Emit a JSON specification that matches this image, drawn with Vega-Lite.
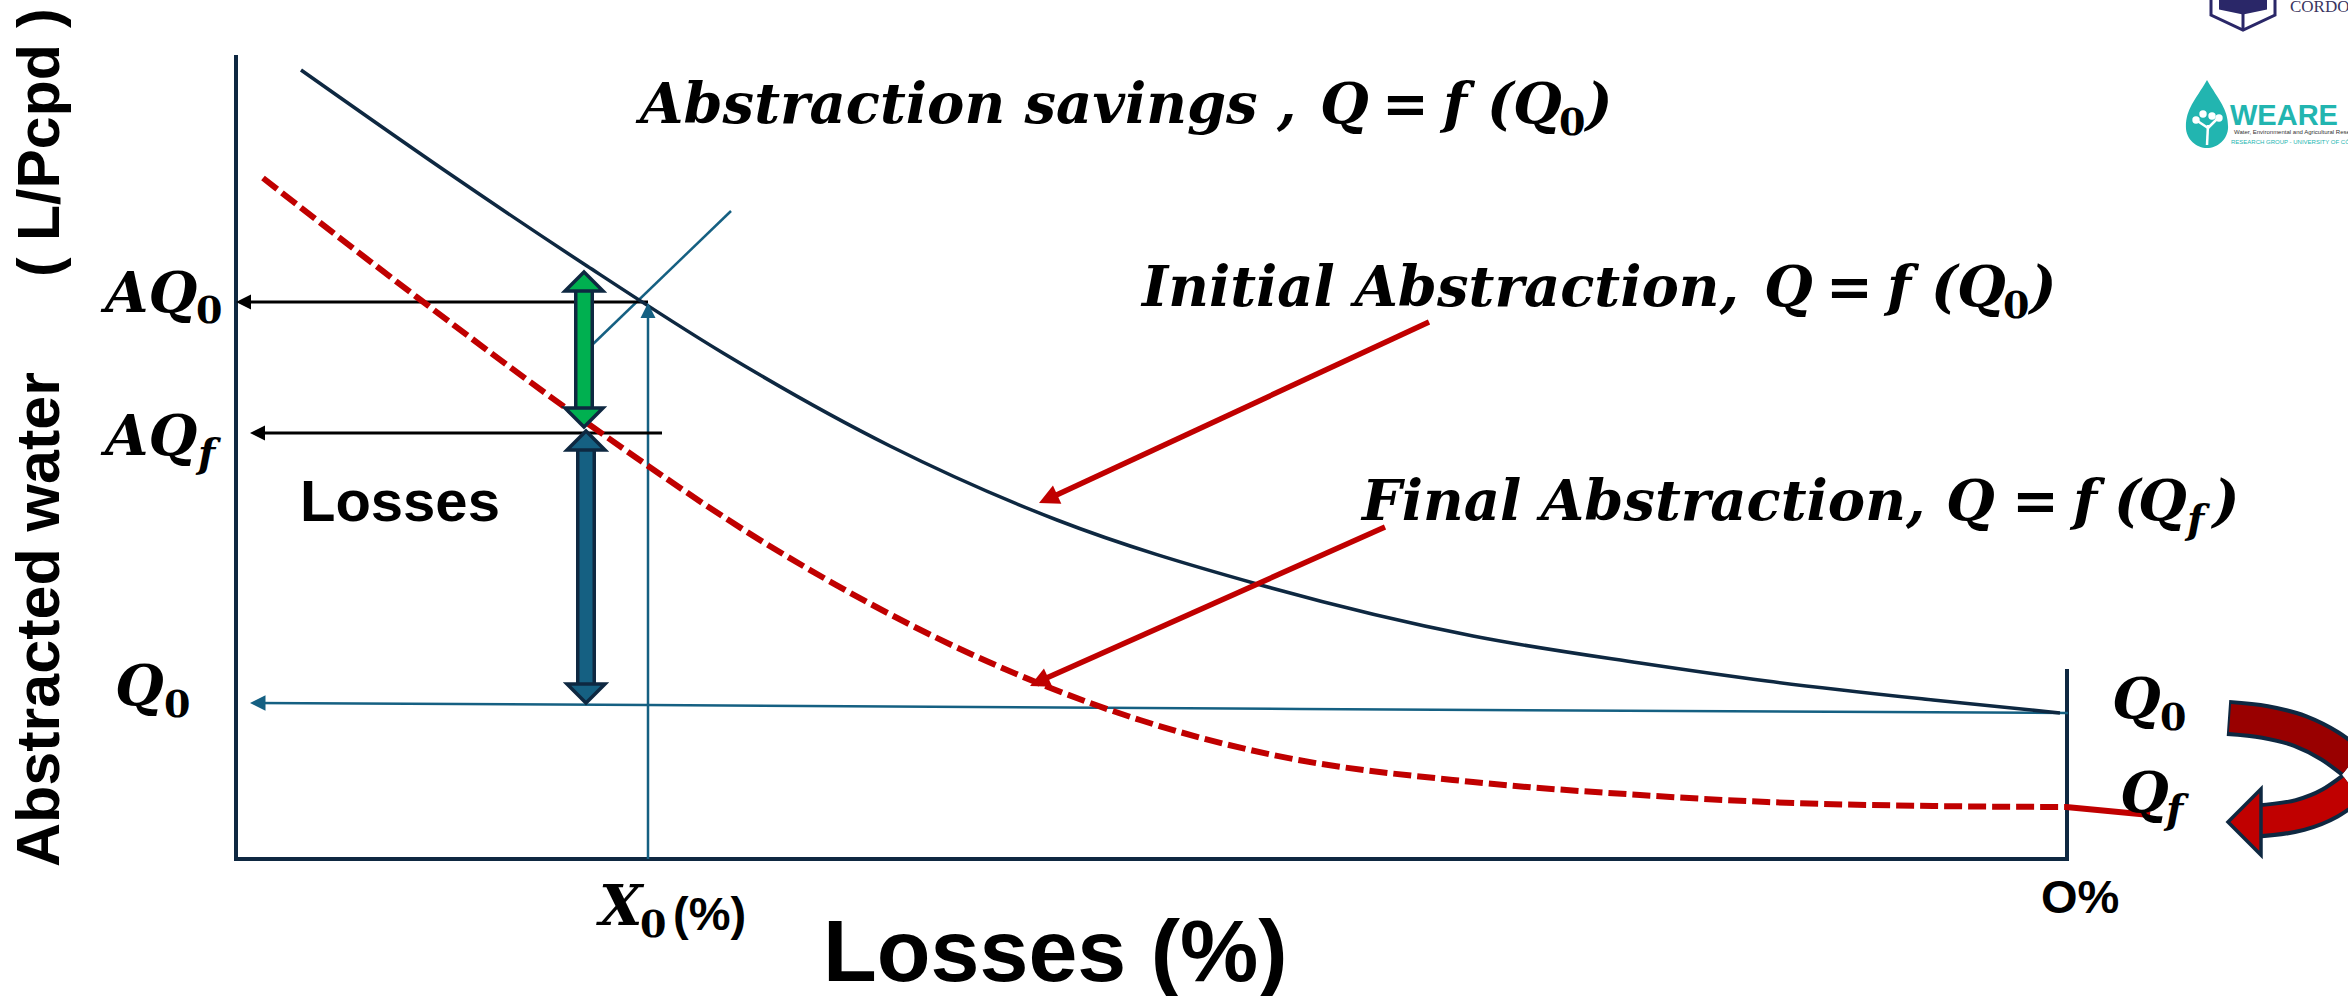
{
"$schema":"https://vega.github.io/schema/vega-lite/v6.json",
"width":2348,"height":996,"autosize":"none","padding":0,"background":"white",
"config":{"view":{"stroke":null}},
"encoding":{
 "x":{"field":"x","type":"quantitative","scale":{"domain":[0,2348],"nice":false,"zero":false},"axis":null},
 "y":{"field":"y","type":"quantitative","scale":{"domain":[996,0],"nice":false,"zero":false},"axis":null}
},
"layer":[
{"data":{"values":[{"s":"axis","x":236,"y":55},{"s":"axis","x":236,"y":859},{"s":"axis","x":2067,"y":859},{"s":"axis","x":2067,"y":669}]},
 "mark":{"type":"line","stroke":"#0E2841","strokeWidth":4,"order":false}},
{"data":{"values":[{"s":"x0","x":648,"y":859},{"s":"x0","x":648,"y":315},{"s":"q0","x":255,"y":703},{"s":"q0","x":648,"y":705},{"s":"q0","x":1300,"y":709},{"s":"q0","x":2068,"y":713},{"s":"d","x":592,"y":345},{"s":"d","x":731,"y":211}]},
 "mark":{"type":"line","stroke":"#156082","strokeWidth":2.5},"encoding":{"detail":{"field":"s"}}},
{"data":{"values":[{"s":"a","x":250,"y":302},{"s":"a","x":648,"y":302},{"s":"b","x":262,"y":433},{"s":"b","x":662,"y":433}]},
 "mark":{"type":"line","stroke":"#000000","strokeWidth":3},"encoding":{"detail":{"field":"s"}}},
{"data":{"values":[{"x":301,"y":70},{"x":444,"y":170},{"x":587,"y":266},{"x":723,"y":353},{"x":890,"y":446},{"x":1057,"y":520},{"x":1257,"y":584},{"x":1473,"y":636},{"x":1640,"y":663},{"x":1767,"y":681},{"x":1933,"y":700},{"x":2060,"y":713}]},
 "mark":{"type":"line","stroke":"#0E2841","strokeWidth":3.5,"interpolate":"monotone"}},
{"data":{"values":[{"x":263,"y":178},{"x":418,"y":298},{"x":587,"y":423},{"x":773,"y":548},{"x":973,"y":655},{"x":1140,"y":720},{"x":1273,"y":755},{"x":1473,"y":782},{"x":1640,"y":795},{"x":1767,"y":802},{"x":1933,"y":806},{"x":2067,"y":807}]},
 "mark":{"type":"line","stroke":"#C00000","strokeWidth":6,"strokeDash":[18,6],"interpolate":"monotone"}},
{"data":{"values":[{"x":2066,"y":807},{"x":2150,"y":815}]},"mark":{"type":"line","stroke":"#C00000","strokeWidth":6}},
{"data":{"values":[{"s":"i","x":1429,"y":322},{"s":"i","x":1050,"y":498},{"s":"f","x":1385,"y":527},{"s":"f","x":1042,"y":680}]},
 "mark":{"type":"line","stroke":"#C00000","strokeWidth":5.5},"encoding":{"detail":{"field":"s"}}},
{"data":{"values":[{"x":1039,"y":503},{"x":1030,"y":686}]},
 "mark":{"type":"point","shape":"M0,0 L2.235,0.065 L1.393,-1.749 Z","size":400,"filled":true,"fill":"#C00000","opacity":1,"strokeWidth":0}},
{"data":{"values":[{"x":236,"y":302},{"x":250,"y":433}]},
 "mark":{"type":"point","shape":"M0,0 L2,-1 L2,1 Z","size":225,"filled":true,"fill":"#000000","opacity":1,"strokeWidth":0}},
{"data":{"values":[{"x":250,"y":703}]},
 "mark":{"type":"point","shape":"M0,0 L2,-1 L2,1 Z","size":240,"filled":true,"fill":"#156082","opacity":1,"strokeWidth":0}},
{"data":{"values":[{"x":648,"y":303}]},
 "mark":{"type":"point","shape":"M0,0 L1,2 L-1,2 Z","size":225,"filled":true,"fill":"#156082","opacity":1,"strokeWidth":0}},
{"data":{"values":[{"s":"g","x":584,"y":288},{"s":"g","x":584,"y":412}]},"mark":{"type":"line","stroke":"#0E2841","strokeWidth":20},"encoding":{"detail":{"field":"s"}}},
{"data":{"values":[{"s":"g","x":584,"y":288},{"s":"g","x":584,"y":412}]},"mark":{"type":"line","stroke":"#00B050","strokeWidth":13},"encoding":{"detail":{"field":"s"}}},
{"data":{"values":[{"s":"b","x":586,"y":445},{"s":"b","x":586,"y":688}]},"mark":{"type":"line","stroke":"#0E2841","strokeWidth":20},"encoding":{"detail":{"field":"s"}}},
{"data":{"values":[{"s":"b","x":586,"y":445},{"s":"b","x":586,"y":688}]},"mark":{"type":"line","stroke":"#156082","strokeWidth":13},"encoding":{"detail":{"field":"s"}}},
{"data":{"values":[{"x":584,"y":272}]},"mark":{"type":"point","shape":"M0,0 L1,1 L-1,1 Z","size":1444,"filled":true,"fill":"#00B050","stroke":"#0E2841","strokeWidth":3.5,"opacity":1}},
{"data":{"values":[{"x":584,"y":427}]},"mark":{"type":"point","shape":"M0,0 L1,-1 L-1,-1 Z","size":1444,"filled":true,"fill":"#00B050","stroke":"#0E2841","strokeWidth":3.5,"opacity":1}},
{"data":{"values":[{"x":586,"y":431}]},"mark":{"type":"point","shape":"M0,0 L1,1 L-1,1 Z","size":1444,"filled":true,"fill":"#156082","stroke":"#0E2841","strokeWidth":3.5,"opacity":1}},
{"data":{"values":[{"x":586,"y":703}]},"mark":{"type":"point","shape":"M0,0 L1,-1 L-1,-1 Z","size":1444,"filled":true,"fill":"#156082","stroke":"#0E2841","strokeWidth":3.5,"opacity":1}},
{"data":{"values":[{"x":2258,"y":821},{"x":2300,"y":815},{"x":2330,"y":803},{"x":2352,"y":788}]},"mark":{"type":"line","stroke":"#0E2841","strokeWidth":35,"interpolate":"monotone"}},
{"data":{"values":[{"x":2254,"y":821},{"x":2300,"y":815},{"x":2330,"y":803},{"x":2352,"y":788}]},"mark":{"type":"line","stroke":"#C00000","strokeWidth":27,"interpolate":"monotone"}},
{"data":{"values":[{"x":2228,"y":822}]},"mark":{"type":"point","shape":"M0,0 L1,-1 L1,1 Z","size":4356,"filled":true,"fill":"#C00000","stroke":"#0E2841","strokeWidth":3.5,"opacity":1}},
{"data":{"values":[{"x":2228,"y":718},{"x":2265,"y":722},{"x":2300,"y":731},{"x":2330,"y":746},{"x":2352,"y":762}]},"mark":{"type":"line","stroke":"#0E2841","strokeWidth":36,"interpolate":"monotone"}},
{"data":{"values":[{"x":2230,"y":718},{"x":2265,"y":722},{"x":2300,"y":731},{"x":2330,"y":746},{"x":2352,"y":762}]},"mark":{"type":"line","stroke":"#990000","strokeWidth":28,"interpolate":"monotone"}},
{"data":{"values":[{"t":"Abstracted water","x":59,"y":867}]},"mark":{"type":"text","angle":270,"align":"left","baseline":"alphabetic","font":"Liberation Sans","fontWeight":"bold","fontSize":61,"fill":"#000000"},"encoding":{"text":{"field":"t"}}},
{"data":{"values":[{"t":"( L/Pcpd )","x":59,"y":277}]},"mark":{"type":"text","angle":270,"align":"left","baseline":"alphabetic","font":"Liberation Sans","fontWeight":"bold","fontSize":59,"fill":"#000000"},"encoding":{"text":{"field":"t"}}},
{"data":{"values":[{"t":"Losses","x":300,"y":521}]},"mark":{"type":"text","align":"left","baseline":"alphabetic","font":"Liberation Sans","fontWeight":"bold","fontSize":58,"fill":"#000000"},"encoding":{"text":{"field":"t"}}},
{"data":{"values":[{"t":"Losses (%)","x":823,"y":981}]},"mark":{"type":"text","align":"left","baseline":"alphabetic","font":"Liberation Sans","fontWeight":"bold","fontSize":88,"fill":"#000000"},"encoding":{"text":{"field":"t"}}},
{"data":{"values":[{"t":"O%","x":2041,"y":913},{"t":"(%)","x":673,"y":930}]},"mark":{"type":"text","align":"left","baseline":"alphabetic","font":"Liberation Sans","fontWeight":"bold","fontSize":47,"fill":"#000000"},"encoding":{"text":{"field":"t"}}},
{"data":{"values":[
 {"t":"Abstraction savings ,","x":640,"y":123},{"t":"Q","x":1320,"y":123},{"t":"=","x":1382,"y":123},{"t":"f","x":1443,"y":123},{"t":"(","x":1487,"y":123},{"t":"Q","x":1513,"y":123},{"t":")","x":1586,"y":123},
 {"t":"Initial Abstraction,","x":1142,"y":306},{"t":"Q","x":1764,"y":306},{"t":"=","x":1826,"y":306},{"t":"f","x":1887,"y":306},{"t":"(","x":1931,"y":306},{"t":"Q","x":1957,"y":306},{"t":")","x":2030,"y":306},
 {"t":"Final Abstraction,","x":1362,"y":520},{"t":"Q","x":1946,"y":520},{"t":"=","x":2012,"y":520},{"t":"f","x":2073,"y":520},{"t":"(","x":2114,"y":520},{"t":"Q","x":2138,"y":520},{"t":")","x":2213,"y":520},
 {"t":"AQ","x":105,"y":312},{"t":"AQ","x":105,"y":455},{"t":"Q","x":115,"y":705},{"t":"Q","x":2112,"y":718},{"t":"Q","x":2120,"y":812},{"t":"X","x":599,"y":925}
]},"mark":{"type":"text","align":"left","baseline":"alphabetic","font":"DejaVu Serif","fontWeight":"bold","fontStyle":"italic","fontSize":56,"fill":"#000000"},"encoding":{"text":{"field":"t"}}},
{"data":{"values":[
 {"t":"f","x":2187,"y":533},{"t":"f","x":198,"y":467},{"t":"f","x":2166,"y":823}
]},"mark":{"type":"text","align":"left","baseline":"alphabetic","font":"DejaVu Serif","fontWeight":"bold","fontStyle":"italic","fontSize":40,"fill":"#000000"},"encoding":{"text":{"field":"t"}}},
{"data":{"values":[
 {"t":"0","x":1559,"y":135},{"t":"0","x":2003,"y":318},{"t":"0","x":196,"y":323},{"t":"0","x":164,"y":717},{"t":"0","x":2160,"y":730},{"t":"0","x":640,"y":937}
]},"mark":{"type":"text","align":"left","baseline":"alphabetic","font":"DejaVu Serif","fontWeight":"bold","fontSize":38,"fill":"#000000"},"encoding":{"text":{"field":"t"}}},
{"data":{"values":[{"x":2207,"y":114}]},"mark":{"type":"point","shape":"M0,-1 C0.35,-0.4 0.62,-0.15 0.62,0.38 C0.62,0.75 0.3,1 0,1 C-0.3,1 -0.62,0.75 -0.62,0.38 C-0.62,-0.15 -0.35,-0.4 0,-1 Z","size":4624,"filled":true,"fill":"#22B5B0","opacity":1,"strokeWidth":0}},
{"data":{"values":[{"s":"t","x":2207,"y":145},{"s":"t","x":2208,"y":125},{"s":"u","x":2196,"y":120},{"s":"u","x":2208,"y":128},{"s":"v","x":2208,"y":128},{"s":"v","x":2220,"y":116}]},"mark":{"type":"line","stroke":"white","strokeWidth":2.5},"encoding":{"detail":{"field":"s"}}},
{"data":{"values":[{"x":2196,"y":120},{"x":2203,"y":114},{"x":2212,"y":116},{"x":2219,"y":118}]},"mark":{"type":"point","shape":"circle","size":55,"filled":true,"fill":"white","opacity":1,"strokeWidth":0}},
{"data":{"values":[{"t":"WEARE","x":2230,"y":125}]},"mark":{"type":"text","align":"left","baseline":"alphabetic","font":"Liberation Sans","fontWeight":"bold","fontSize":29,"fill":"#22B5B0"},"encoding":{"text":{"field":"t"}}},
{"data":{"values":[{"t":"Water, Environmental and Agricultural Research","x":2234,"y":134}]},"mark":{"type":"text","align":"left","baseline":"alphabetic","font":"Liberation Sans","fontSize":6,"fill":"#333333"},"encoding":{"text":{"field":"t"}}},
{"data":{"values":[{"t":"RESEARCH GROUP - UNIVERSITY OF CÓRDOBA","x":2231,"y":144}]},"mark":{"type":"text","align":"left","baseline":"alphabetic","font":"Liberation Sans","fontSize":6,"fill":"#22B5B0"},"encoding":{"text":{"field":"t"}}},
{"data":{"values":[{"x":2211,"y":0},{"x":2211,"y":15},{"x":2243,"y":30},{"x":2275,"y":15},{"x":2275,"y":0}]},"mark":{"type":"line","stroke":"#2A2768","strokeWidth":3,"order":false}},
{"data":{"values":[{"s":"m","x":2243,"y":30},{"s":"m","x":2243,"y":14}]},"mark":{"type":"line","stroke":"#2A2768","strokeWidth":3},"encoding":{"detail":{"field":"s"}}},
{"data":{"values":[{"x":2243,"y":0}]},"mark":{"type":"point","shape":"M-1,0 L1,0 L1,0.4 L0,0.6 L-1,0.4 Z","size":2304,"filled":true,"fill":"#2A2768","opacity":1,"strokeWidth":0}},
{"data":{"values":[{"t":"CORDOBA","x":2290,"y":12}]},"mark":{"type":"text","align":"left","baseline":"alphabetic","font":"Liberation Serif","fontSize":17,"fill":"#3A3560"},"encoding":{"text":{"field":"t"}}}
]
}
